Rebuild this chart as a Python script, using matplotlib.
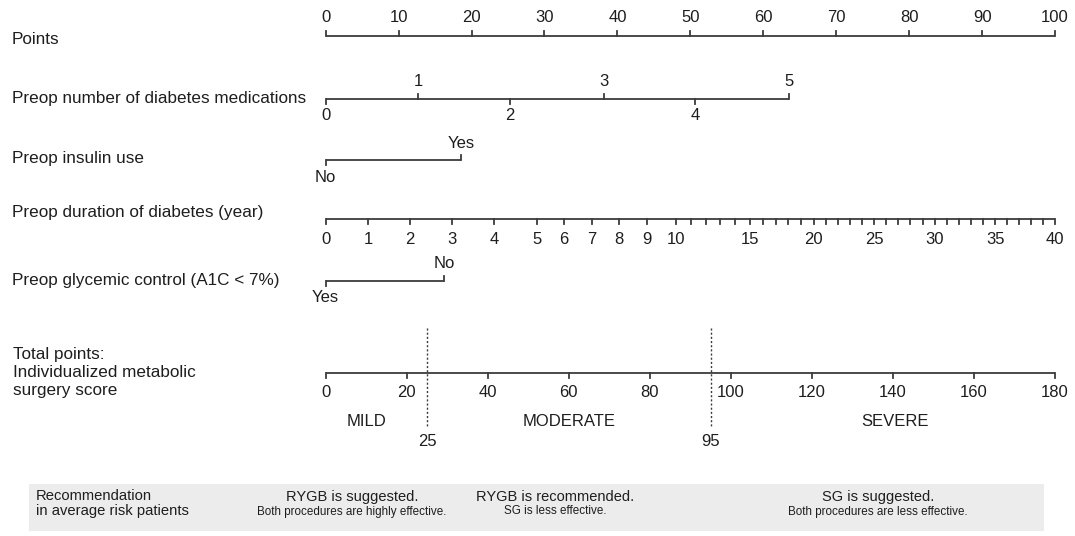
import matplotlib
matplotlib.use('Agg')
import matplotlib.pyplot as plt
from matplotlib.patches import Rectangle
import numpy as np

INK = '#1e1e1e'; LINE = '#3c3c3c'; BOX = '#ececec'
plt.rcParams.update({'font.family': ['Liberation Sans', 'DejaVu Sans'], 'text.color': INK})

# nomogram scales (values in "points", 0-100)
points_ticks = [0, 10, 20, 30, 40, 50, 60, 70, 80, 90, 100]

meds_levels = ['0', '1', '2', '3', '4', '5']
meds_points = [0, 12.7, 25.3, 38.1, 50.7, 63.5]

insulin_levels = ['No', 'Yes']
insulin_points = [0, 18.6]

dur_major = [0, 1, 2, 3, 4, 5, 6, 7, 8, 9, 10, 15, 20, 25, 30, 35, 40]
dur_major_points = [0, 5.8, 11.6, 17.3, 23.1, 29.0, 32.7, 36.5, 40.2, 44.1,
                    48.0, 58.2, 66.9, 75.2, 83.5, 91.8, 100]
dur_minor = list(range(11, 40))

glyc_levels = ['Yes', 'No']
glyc_points = [0, 16.2]

total_ticks = [0, 20, 40, 60, 80, 100, 120, 140, 160, 180]
total_max = 180
cutoffs = [25, 95]
severity = ['MILD', 'MODERATE', 'SEVERE']
severity_at = [10, 60, 140.5]

rec_head = ['RYGB is suggested.', 'RYGB is recommended.', 'SG is suggested.']
rec_sub = ['Both procedures are highly effective.', 'SG is less effective.',
           'Both procedures are less effective.']

# pixel layout: points 0 -> x 325.7 px, 100 -> 1055 px
X0, PPP = 325.7, 7.293
def px(x):
    return (x - X0) / PPP

fig = plt.figure(figsize=(10.75, 5.36), dpi=100)
ax = fig.add_axes([0, 0, 1, 1])
ax.set_xlim(px(0), px(1075)); ax.set_ylim(536, 0); ax.axis('off')

TL = 5; FS = 12; LFS = 12.3

def scale(y, pos, labels, sides, ly=17, fs=FS):
    ax.plot([min(pos), max(pos)], [y, y], color=LINE, lw=1.3, solid_capstyle='butt')
    for p, l, s in zip(pos, labels, sides):
        d = -1 if s == 'up' else 1
        ax.plot([p, p], [y, y + d * TL], color=LINE, lw=1.3)
        if l:
            ax.text(p, y + d * ly, l, ha='center', va='center', fontsize=fs)

def rowlabel(y, s):
    ax.text(px(12), y, s, ha='left', va='center', fontsize=LFS)

# Points
scale(36, points_ticks, [str(t) for t in points_ticks], ['up'] * 11, ly=18)
rowlabel(40, 'Points')

# medications
scale(98.5, meds_points, meds_levels,
      ['down' if i % 2 == 0 else 'up' for i in range(6)])
rowlabel(99, 'Preop number of diabetes medications')

# insulin
scale(160, insulin_points, insulin_levels, ['down', 'up'])
rowlabel(158, 'Preop insulin use')

# duration
scale(219, dur_major_points, [str(d) for d in dur_major], ['down'] * len(dur_major), ly=21)
minor_pts = np.interp(dur_minor, dur_major, dur_major_points)
for d, p in zip(dur_minor, minor_pts):
    if d not in dur_major:
        ax.plot([p, p], [219, 219 + TL], color=LINE, lw=1.3)
rowlabel(213, 'Preop duration of diabetes (year)')

# glycemic control
scale(280.5, glyc_points, glyc_levels, ['down', 'up'])
rowlabel(281, 'Preop glycemic control (A1C < 7%)')

# total points
tot = lambda v: np.asarray(v) * 100 / total_max
scale(372.5, tot(total_ticks), [str(t) for t in total_ticks], ['down'] * len(total_ticks), ly=20)
ax.text(px(12.7), 372.5, 'Total points:\nIndividualized metabolic\nsurgery score',
        ha='left', va='center', fontsize=LFS, linespacing=1.25)
for c in cutoffs:
    ax.plot([tot(c), tot(c)], [328, 428], color=LINE, lw=1, ls=(0, (1.5, 1.5)))
    ax.text(tot(c), 441.5, str(c), ha='center', va='center', fontsize=FS)
for s, v in zip(severity, severity_at):
    ax.text(tot(v), 421, s, ha='center', va='center', fontsize=FS)

# recommendation band
ax.add_patch(Rectangle((px(29), 484), px(1044) - px(29), 47, facecolor=BOX, edgecolor='none'))
ax.text(px(36), 503.5, 'Recommendation\nin average risk patients', ha='left', va='center',
        fontsize=10.6, linespacing=1.05)
for cx, h, s in zip([352, 555, 878], rec_head, rec_sub):
    ax.text(px(cx), 497, h, ha='center', va='center', fontsize=10.5)
    ax.text(px(cx), 511.5, s, ha='center', va='center', fontsize=8.4)

plt.savefig('out.png', dpi=100, facecolor='white')
